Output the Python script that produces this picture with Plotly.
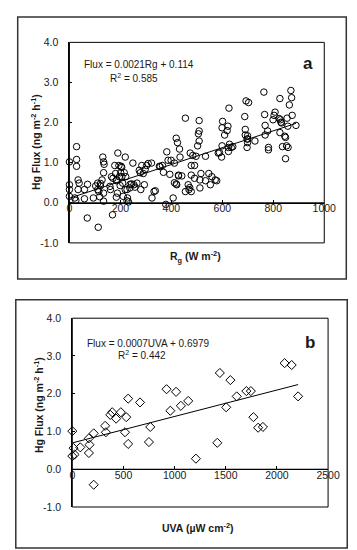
import numpy as np
import plotly.graph_objects as go

# ---------------- data ----------------
rg_a = [0, 0, 0, 0, 28, 28, 28, 34, 38, 34, 21, 25, 59, 59, 71, 70, 94, 103, 111, 111,
        113, 121, 128, 131, 134, 136, 134, 134, 134, 159, 161, 165, 171, 169, 178, 181, 184, 184, 188, 190,
        194, 196, 203, 206, 209, 211, 215, 219, 219, 221, 228, 232, 237, 244, 249, 253, 265, 274, 278, 280,
        284, 290, 294, 297, 303, 309, 322, 324, 332, 337, 353, 365, 369, 378, 382, 387, 394, 399, 407, 412,
        412, 419, 419, 424, 428, 432, 434, 441, 455, 455, 466, 469, 474, 478, 478, 478, 484, 491, 491, 497,
        503, 506, 509, 509, 509, 512, 512, 516, 534, 534, 547, 553, 559, 572, 578, 584, 597, 599, 599, 601,
        609, 619, 622, 624, 624, 626, 628, 635, 641, 688, 690, 690, 693, 697, 697, 699, 703, 699, 728, 763,
        766, 768, 768, 778, 781, 781, 799, 803, 807, 826, 828, 832, 836, 826, 848, 848, 854, 857, 858, 863,
        869, 872, 874, 889, 115, 119, 122, 186, 199, 201, 205, 226, 226, 238, 257, 356, 421, 472, 428, 823,
        830, 845, 852, 700, 589]
flux_a = [1.02, 0.45, 0.33, 0.16, 1.40, 1.08, 0.91, 0.57, 0.49, 0.33, 0.12, 0.06, 0.33, 0.10, 0.46, -0.38, 0.12, 0.42, 0.49, 0.33,
          -0.61, 0.42, 0.57, 1.14, 1.02, 0.96, 0.75, 0.24, 0.04, 0.41, 0.33, 0.65, 0.61, -0.30, 0.93, 0.73, 0.55, 0.14, 0.24, 1.24,
          0.93, 0.65, 0.91, 0.65, 0.49, 0.16, 0.75, 1.14, 0.33, 0.65, 0.12, 0.02, 0.37, 0.47, 0.99, 0.45, 0.49, 0.81, 0.75, 0.33,
          0.93, 0.73, 0.45, 0.83, 0.93, 0.98, 0.99, 0.12, 0.28, 0.30, 0.91, 0.93, 0.76, -0.04, 1.27, 1.06, 0.71, 1.06, 0.12, 0.99,
          0.50, 0.47, 1.61, 1.50, 0.67, 1.34, 1.14, 0.67, 2.11, 0.28, 0.45, 0.33, 1.24, 0.93, 0.69, 0.28, 1.18, 0.93, 0.61, 1.16,
          1.42, 1.72, 2.05, 1.79, 1.54, 0.57, 0.37, 0.73, 1.16, 0.55, 0.73, 0.45, 0.65, 0.57, 0.55, 1.24, 1.14, 1.42, 1.87, 2.03,
          1.69, 1.80, 1.91, 1.38, 1.28, 2.36, 1.46, 1.38, 1.40, 2.15, 1.83, 1.69, 2.54, 1.59, 1.38, 1.50, 2.50, 1.67, 1.54, 2.76,
          2.20, 1.93, 1.69, 1.79, 1.38, 1.32, 2.07, 2.18, 2.26, 2.60, 2.07, 1.99, 1.40, 1.75, 1.63, 1.10, 2.11, 1.91, 1.38, 2.44,
          2.80, 2.62, 2.18, 1.93, 0.28, 0.15, 0.48, 0.57, 0.43, 0.75, 0.88, 0.05, 0.33, 0.46, 0.39, 0.90, 0.45, 0.38, 0.69, 2.10,
          2.01, 1.66, 1.42, 1.59, 1.25]

uva_b = [0, 0, 12, 22, 78, 162, 168, 162, 209, 209, 321, 328, 371, 390, 428, 474, 527, 515, 546, 546,
         662, 749, 762, 921, 958, 1014, 1061, 1133, 1208, 1417, 1442, 1504, 1545, 1607, 1701, 1745, 1770, 1816, 1863, 2075,
         2144, 2207]
flux_b = [1.01, 0.35, 0.56, 0.39, 0.58, 0.82, 0.65, 0.43, 0.95, -0.41, 1.15, 0.98, 1.44, 1.51, 1.34, 1.51, 1.38, 0.98, 1.87, 0.67,
          1.77, 0.72, 1.12, 2.12, 1.55, 2.05, 1.68, 1.81, 0.28, 0.70, 2.55, 1.64, 2.36, 1.93, 2.07, 2.07, 1.38, 1.10, 1.12, 2.81,
          2.76, 1.93]

fit_a = (0.0021, 0.114)      # slope, intercept
fit_b = (0.0007, 0.6979)

x_ticks_a = [0, 200, 400, 600, 800, 1000]
x_ticks_b = [0, 500, 1000, 1500, 2000, 2500]
y_ticks = [-1, 0, 1, 2, 3, 4]
y_tick_text = ["-1.0", "0.0", "1.0", "2.0", "3.0", "4.0"]

# ---------------- layout helpers ----------------
W, H = 357, 550
FONT = "Liberation Sans, Arial, sans-serif"
TXT = "#1a1a1a"


def px(x):
    return x / W


def py(y):
    return 1 - y / H


A = dict(l=61, r=327, t=29, b=234)
B = dict(l=64, r=331, t=311, b=504)

fig = go.Figure()

# panel a
xa = np.array([min(rg_a), max(rg_a)])
fig.add_trace(go.Scatter(x=rg_a, y=flux_a, mode="markers", xaxis="x", yaxis="y",
                         marker=dict(symbol="circle-open", size=6.5, color="black", line=dict(width=1)),
                         cliponaxis=False, showlegend=False))
fig.add_trace(go.Scatter(x=xa, y=fit_a[0] * xa + fit_a[1], mode="lines", xaxis="x", yaxis="y",
                         line=dict(color="black", width=1), showlegend=False))

# panel b
xb = np.array([min(uva_b), max(uva_b)])
fig.add_trace(go.Scatter(x=uva_b, y=flux_b, mode="markers", xaxis="x2", yaxis="y2",
                         marker=dict(symbol="diamond-open", size=7, color="black", line=dict(width=1)),
                         cliponaxis=False, showlegend=False))
fig.add_trace(go.Scatter(x=xb, y=fit_b[0] * xb + fit_b[1], mode="lines", xaxis="x2", yaxis="y2",
                         line=dict(color="black", width=1), showlegend=False))


def axes(box, xticks, xmax):
    ydom = [py(box["b"]), py(box["t"])]
    pos = ydom[0] + (0 - y_ticks[0]) / (y_ticks[-1] - y_ticks[0]) * (ydom[1] - ydom[0])
    xa_ = dict(domain=[px(box["l"]), px(box["r"])], range=[0, xmax], anchor="free", position=pos,
               showline=True, linecolor="black", linewidth=1, ticks="inside", ticklen=3,
               tickcolor="black", tickvals=xticks, showgrid=False, zeroline=False,
               tickfont=dict(family=FONT, size=10.5, color=TXT), ticklabelstandoff=-4)
    ya_ = dict(domain=ydom, range=[y_ticks[0], y_ticks[-1]], showline=True, linecolor="black",
               linewidth=1, ticks="inside", ticklen=3, tickcolor="black", tickvals=y_ticks,
               ticktext=y_tick_text, showgrid=False, zeroline=False,
               tickfont=dict(family=FONT, size=10.5, color=TXT), ticklabelstandoff=8)
    return xa_, ya_


xa1, ya1 = axes(A, x_ticks_a, x_ticks_a[-1])
xa2, ya2 = axes(B, x_ticks_b, x_ticks_b[-1])
ya1["anchor"] = "x"
ya2["anchor"] = "x2"

shapes = []
# outer frames
shapes.append(dict(type="rect", xref="paper", yref="paper", x0=px(7), x1=px(350), y0=py(271), y1=py(3),
                   line=dict(color="#333", width=1.5)))
shapes.append(dict(type="rect", xref="paper", yref="paper", x0=px(5), x1=px(351), y0=py(546), y1=py(292),
                   line=dict(color="#333", width=1.5)))
# plot area boxes and zero lines
for xr, yr in (("x", "y"), ("x2", "y2")):
    shapes.append(dict(type="rect", xref=f"{xr} domain", yref=f"{yr} domain", x0=0, x1=1, y0=0, y1=1,
                       line=dict(color="black", width=1)))
    shapes.append(dict(type="line", xref=f"{xr} domain", yref=yr, x0=0, x1=1, y0=0, y1=0,
                       line=dict(color="black", width=1)))


def ann(text, x, y, size=10, bold=False, angle=0, xanchor="center"):
    return dict(text=f"<b>{text}</b>" if bold else text, x=px(x), y=py(y), xref="paper", yref="paper",
                showarrow=False, textangle=angle, xanchor=xanchor, yanchor="middle",
                font=dict(family=FONT, size=size, color=TXT))


annotations = [
    ann("Flux = 0.0021Rg + 0.114", 74, 52, size=10, xanchor="left"),
    ann("R<sup>2</sup> = 0.585", 128, 65, size=10),
    ann("a", 310, 51, size=17, bold=True),
    ann("Hg Flux (ng m<sup>-2</sup> h<sup>-1</sup>)", 25, 131, size=10.5, bold=True, angle=-90),
    ann("R<sub>g</sub> (W m<sup>-2</sup>)", 193, 248, size=10.5, bold=True),
    ann("Flux = 0.0007UVA + 0.6979", 77, 337, size=10, xanchor="left"),
    ann("R<sup>2</sup> = 0.442", 137, 349, size=10),
    ann("b", 312, 336, size=17, bold=True),
    ann("Hg Flux (ng m<sup>-2</sup> h<sup>-1</sup>)", 28, 400, size=10.5, bold=True, angle=-90),
    ann("UVA (µW cm<sup>-2</sup>)", 195, 525, size=10.5, bold=True),
]

fig.update_layout(width=W, height=H, margin=dict(l=0, r=0, t=0, b=0),
                  paper_bgcolor="white", plot_bgcolor="white",
                  xaxis=xa1, yaxis=ya1, xaxis2=xa2, yaxis2=ya2,
                  shapes=shapes, annotations=annotations, showlegend=False,
                  font=dict(family=FONT, color=TXT))

fig.write_html("out.html")
